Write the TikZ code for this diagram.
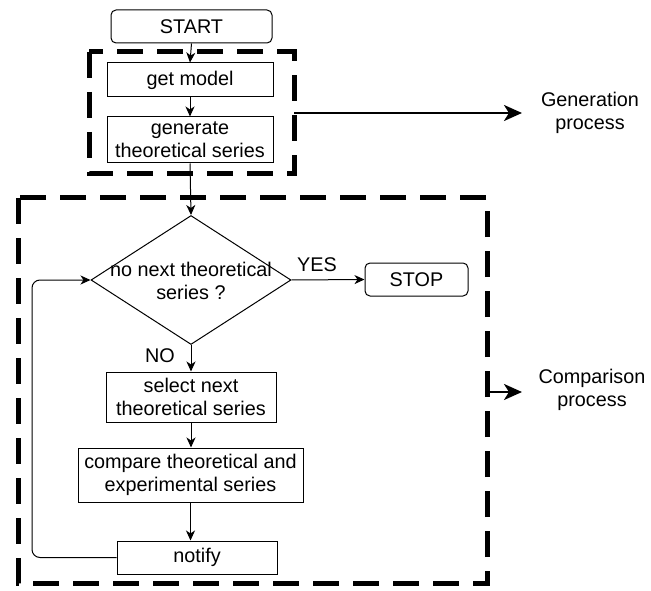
\documentclass[tikz,border=0pt]{standalone}
\usepackage{fontspec}
\setmainfont{Liberation Sans}
\usetikzlibrary{arrows.meta,shapes.geometric}
\begin{document}
\begin{tikzpicture}[x=1pt,y=-1pt,
  every node/.style={font=\fontsize{19.8}{23}\selectfont, align=center, inner sep=0pt},
  procbox/.style={draw, line width=1pt, minimum width=#1},
  termbox/.style={draw, line width=1pt, rounded corners=5pt, minimum width=#1},
  flow/.style={line width=1pt, -{Stealth[length=10pt,width=9pt,inset=3pt]}},
  groupbox/.style={draw, line width=5pt, dash pattern=on 26pt off 14pt},
  outarrow/.style={line width=2.5pt, -{Stealth[length=18pt,width=16pt,inset=5pt]}}
]
\useasboundingbox (0,0) rectangle (651,591);

% grouping frames
\draw[groupbox] (89,52) rectangle (294,174);
\draw[groupbox] (18,198) rectangle (487,583);

% flow steps
\node[termbox=161pt, minimum height=33pt] (start) at (191.5,26.5) {START};
\node[procbox=166pt, minimum height=34pt] (getm) at (190,80) {get model};
\node[procbox=166pt, minimum height=46pt] (gen) at (190,140) {generate\\theoretical series};
\node[draw, line width=1pt, diamond, minimum width=200pt, minimum height=129pt] (dec) at (191,280) {};
\node (dectext) at (191,281) {no next theoretical\\series ?};
\node[termbox=103pt, minimum height=33pt] (stop) at (416.5,279.5) {STOP};
\node[procbox=170pt, minimum height=50pt] (sel) at (191,397) {select next\\theoretical series};
\node[procbox=225pt, minimum height=54pt] (cmp) at (190.5,475) {compare theoretical and\\experimental series};
\node[procbox=160pt, minimum height=33pt] (note) at (197,557.5) {notify};

\node (yes) at (317,265) {YES};
\node (no) at (160,356) {NO};

% connectors
\draw[flow] (start.south) -- (getm.north);
\draw[flow] (getm.south) -- (gen.north);
\draw[flow] (gen.south) -- (dec.north);
\draw[flow] (dec.east) -- (stop.west);
\draw[flow] (dec.south) -- (sel.north);
\draw[flow] (sel.south) -- (sel.south |- cmp.north);
\draw[flow] (cmp.south) -- (cmp.south |- note.north);
\coordinate (loopbot) at (32,557.5);
\coordinate (looptop) at (32,280);
\draw[flow, rounded corners=8pt] (note.west) -- (loopbot) -- (looptop) -- (dec.west);

% process labels
\node (genlbl) at (590,113) {Generation\\process};
\node (cmplbl) at (592,390) {Comparison\\process};
\coordinate (genfrom) at (294,113);
\coordinate (gento) at (522,113);
\coordinate (cmpfrom) at (487,392);
\coordinate (cmpto) at (522,392);
\draw[outarrow] (genfrom) -- (gento);
\draw[outarrow] (cmpfrom) -- (cmpto);
\end{tikzpicture}
\end{document}
